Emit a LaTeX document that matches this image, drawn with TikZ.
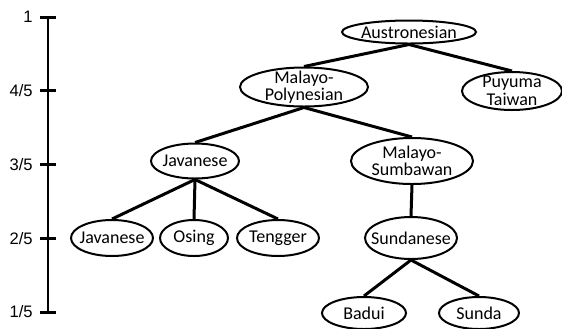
\documentclass[tikz,border=0pt]{standalone}
\usepackage{fontspec}
\setmainfont{Carlito}
\newfontfamily\axisfont{Liberation Sans}
\usetikzlibrary{shapes.geometric}
\tikzset{
  lang/.style={ellipse, draw, line width=1pt, inner xsep=-20pt, inner ysep=-10pt,
    align=center, font=\fontsize{9}{8.8}\selectfont},
  branch/.style={line width=1.5pt},
  tick/.style={line width=1.5pt},
}
\begin{document}
\begin{tikzpicture}[x=0.5pt, y=-0.5pt]
\useasboundingbox (0,0) rectangle (562,328);
% Scale on the left
\draw[line width=0.75pt] (48,17) -- (48,312);
\foreach \yy/\lbl in {17/1, 90.75/4\slash5, 164.5/3\slash5, 238.25/2\slash5, 312/1\slash5} {
  \draw[tick] (40,\yy) -- (56,\yy);
  \node[anchor=east, inner sep=0pt, font=\axisfont\fontsize{8.3}{8.3}\selectfont] at (33,\yy) {\lbl};
}
% Tree nodes
\node[lang, minimum width=67pt, minimum height=11.5pt] (austro) at (409,32) {Austronesian};
\node[lang, minimum width=64pt, minimum height=19.5pt] (malpol) at (304,87) {Malayo-\\Polynesian};
\node[lang, minimum width=50pt, minimum height=19pt] (puyuma) at (512,91) {Puyuma\\Taiwan};
\node[lang, minimum width=44pt, minimum height=17.5pt] (javmid) at (195,161) {Javanese};
\node[lang, minimum width=61pt, minimum height=23pt] (malsum) at (412,161) {Malayo-\\Sumbawan};
\node[lang, minimum width=41pt, minimum height=18pt] (javleaf) at (112,238) {Javanese};
\node[lang, minimum width=34pt, minimum height=18pt] (osing) at (194,238) {Osing};
\node[lang, minimum width=41pt, minimum height=18pt] (tengger) at (278,238) {Tengger};
\node[lang, minimum width=46pt, minimum height=21pt] (sundanese) at (411,238) {Sundanese};
\node[lang, minimum width=42pt, minimum height=16pt] (badui) at (364,313) {Badui};
\node[lang, minimum width=40pt, minimum height=16pt] (sunda) at (479,313) {Sunda};
% Branches
\draw[branch] (austro.south) -- (malpol.north);
\draw[branch] (austro.south) -- (puyuma.north);
\draw[branch] (malpol.south) -- (javmid.north);
\draw[branch] (malpol.south) -- (malsum.north);
\foreach \leaf in {javleaf, osing, tengger} {
  \draw[branch] (javmid.south) -- (\leaf.north);
}
\draw[branch] (malsum.south) -- (sundanese.north);
\draw[branch] (sundanese.south) -- (badui.north);
\draw[branch] (sundanese.south) -- (sunda.north);
\end{tikzpicture}
\end{document}
